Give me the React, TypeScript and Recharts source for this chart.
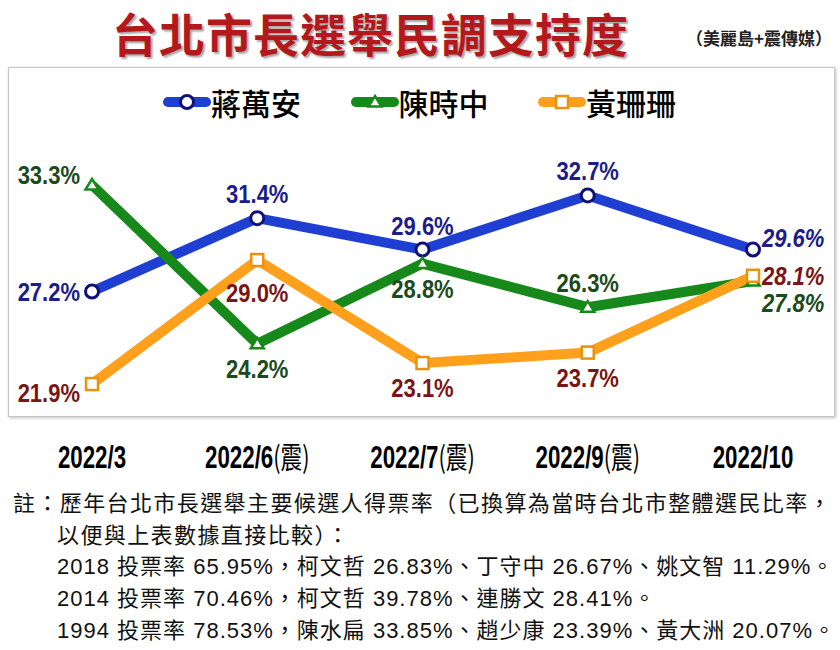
import React from "react";
import { LineChart, Line, XAxis, YAxis, Legend, LabelList } from "recharts";

const months = ["2022/3", "2022/6(震)", "2022/7(震)", "2022/9(震)", "2022/10"];
const jiang = [27.2, 31.4, 29.6, 32.7, 29.6];
const chen = [33.3, 24.2, 28.8, 26.3, 27.8];
const huang = [21.9, 29.0, 23.1, 23.7, 28.1];

// where each value label sits relative to its point
const jiangSpots = ["l", "u", "u", "u", "ru"];
const chenSpots = ["ul", "d", "d", "u", "rd"];
const huangSpots = ["dl", "dd", "d", "d", "r"];

const notes = [
    "註：歷年台北市長選舉主要候選人得票率（已換算為當時台北市整體選民比率，",
    "以便與上表數據直接比較）：",
    "2018 投票率 65.95%，柯文哲 26.83%、丁守中 26.67%、姚文智 11.29%。",
    "2014 投票率 70.46%，柯文哲 39.78%、連勝文 28.41%。",
    "1994 投票率 78.53%，陳水扁 33.85%、趙少康 23.39%、黃大洲 20.07%。",
];

const data = months.map((m, i) => ({ month: m, jiang: jiang[i], chen: chen[i], huang: huang[i] }));

const spotStyle: Record<string, { dx: number; dy: number; anchor: string; italic?: boolean }> = {
    ul: { dx: -12, dy: -10, anchor: "end" },
    l: { dx: -12, dy: 1, anchor: "end" },
    dl: { dx: -12, dy: 9, anchor: "end" },
    u: { dx: 0, dy: -24, anchor: "middle" },
    d: { dx: 0, dy: 25, anchor: "middle" },
    dd: { dx: 0, dy: 33, anchor: "middle" },
    ru: { dx: 9, dy: -12, anchor: "start", italic: true },
    r: { dx: 9, dy: 0, anchor: "start", italic: true },
    rd: { dx: 9, dy: 22, anchor: "start", italic: true },
};

const numFont = "'Liberation Sans', Arial, sans-serif";
const cjkFont = "'Noto Sans CJK TC', 'Noto Sans CJK SC', sans-serif";

const series = [
    { key: "jiang", name: "蔣萬安", line: "#1f3fd2", mark: "#10107a", text: "#1c1c8a", shape: "circle", spots: jiangSpots },
    { key: "chen", name: "陳時中", line: "#17891a", mark: "#17891a", text: "#1b4a1b", shape: "triangle", spots: chenSpots },
    { key: "huang", name: "黃珊珊", line: "#ffa01c", mark: "#e8920e", text: "#7b1515", shape: "square", spots: huangSpots },
];

function Marker({ shape, cx, cy, color }: { shape: string; cx: number; cy: number; color: string }) {
    if (shape === "circle") {
        return <circle cx={cx} cy={cy} r={6.5} fill="#fff" stroke={color} strokeWidth={3} />;
    }
    if (shape === "triangle") {
        return (
            <path
                d={`M${cx},${cy - 6} L${cx + 6.5},${cy + 4.5} L${cx - 6.5},${cy + 4.5} Z`}
                fill="#fff"
                stroke={color}
                strokeWidth={2.5}
            />
        );
    }
    return <rect x={cx - 6} y={cy - 6} width={12} height={12} fill="#fff" stroke={color} strokeWidth={2.5} />;
}

function makeLabel(spots: string[], color: string) {
    return (props: any) => {
        const { x, y, value, index } = props;
        const s = spotStyle[spots[index]];
        return (
            <text
                transform={`translate(${x + s.dx},${y + s.dy + 9}) scale(0.88,1)`}
                textAnchor={s.anchor as any}
                fill={color}
                fontFamily={numFont}
                fontWeight="bold"
                fontStyle={s.italic ? "italic" : "normal"}
                fontSize={25}
            >
                {Number(value).toFixed(1)}%
            </text>
        );
    };
}

function MonthTick(props: any) {
    const { x, y, payload } = props;
    const label: string = payload.value;
    const cut = label.indexOf("(");
    const base = cut >= 0 ? label.slice(0, cut) : label;
    const extra = cut >= 0 ? label.slice(cut) : "";
    return (
        <text
            transform={`translate(${x},${y + 43}) scale(0.72,1)`}
            textAnchor="middle"
            fill="#000"
            fontFamily={numFont}
            fontWeight="bold"
            fontSize={31}
        >
            {base}
            {extra && (
                <tspan fontFamily={cjkFont} fontWeight={400} fontSize={30}>
                    {extra}
                </tspan>
            )}
        </text>
    );
}

function LegendBox(props: any) {
    const { payload } = props;
    return (
        <div style={{ position: "relative", width: 840, height: 40 }}>
            {(payload || []).map((p: any, i: number) => {
                const s = series.find((q) => q.key === p.dataKey)!;
                return (
                    <div
                        key={s.key}
                        style={{ position: "absolute", left: 163 + i * 187.5, top: 0, height: 40, display: "flex", alignItems: "center" }}
                    >
                        <svg width={48} height={20}>
                            <line x1={5} y1={10} x2={43} y2={10} stroke={s.line} strokeWidth={10} strokeLinecap="round" />
                            <Marker shape={s.shape} cx={24} cy={10} color={s.mark} />
                        </svg>
                        <span style={{ fontFamily: cjkFont, fontSize: 30, fontWeight: 500, color: "#000" }}>{p.value}</span>
                    </div>
                );
            })}
        </div>
    );
}

export default function App() {
    return (
        <div style={{ position: "absolute", left: 0, top: 0, width: 840, height: 650, background: "#fff", overflow: "hidden" }}>
            <div
                style={{
                    position: "absolute",
                    left: 112,
                    top: 0,
                    fontFamily: cjkFont,
                    fontSize: 46,
                    fontWeight: 700,
                    letterSpacing: 1,
                    color: "#b3191c",
                    textShadow: "2px 2px 2px rgba(0,0,0,0.35)",
                    whiteSpace: "nowrap",
                    lineHeight: "64px",
                }}
            >
                台北市長選舉民調支持度
            </div>
            <div
                style={{
                    position: "absolute",
                    left: 686,
                    top: 27,
                    fontFamily: cjkFont,
                    fontSize: 17,
                    fontWeight: 700,
                    color: "#222",
                    whiteSpace: "nowrap",
                    lineHeight: "22px",
                }}
            >
                （美麗島+震傳媒）
            </div>
            <div
                style={{
                    position: "absolute",
                    left: 8,
                    top: 67,
                    width: 825,
                    height: 348,
                    border: "1px solid #c6c6c6",
                    boxShadow: "1px 1px 3px rgba(0,0,0,0.25)",
                }}
            />
            <div style={{ position: "absolute", left: 0, top: 0 }}>
                <LineChart width={840} height={650} data={data} margin={{ top: 115.3, right: 87, bottom: 172.8, left: 92 }}>
                    <XAxis dataKey="month" axisLine={false} tickLine={false} height={60} interval={0} tick={<MonthTick />} />
                    <YAxis hide domain={[20, 35]} />
                    <Legend
                        verticalAlign="top"
                        content={<LegendBox />}
                        wrapperStyle={{ position: "absolute", top: 82, left: 0, width: 840 }}
                    />
                    {series.map((s) => (
                        <Line
                            key={s.key}
                            dataKey={s.key}
                            name={s.name}
                            stroke={s.line}
                            strokeWidth={10}
                            strokeLinejoin="round"
                            type="linear"
                            isAnimationActive={false}
                            dot={(p: any) => <Marker key={`${s.key}-${p.index}`} shape={s.shape} cx={p.cx} cy={p.cy} color={s.mark} />}
                            activeDot={false}
                        >
                            <LabelList dataKey={s.key} content={makeLabel(s.spots, s.text)} />
                        </Line>
                    ))}
                </LineChart>
            </div>
            <div style={{ position: "absolute", left: 13, top: 488, fontFamily: "'Liberation Sans', " + cjkFont, fontSize: 22, color: "#111" }}>
                {notes.map((n, i) => (
                    <div
                        key={i}
                        style={{
                            whiteSpace: "nowrap",
                            lineHeight: "31.7px",
                            marginLeft: i === 0 ? 0 : 44,
                            letterSpacing: i < 2 ? 1.4 : 1.0,
                        }}
                    >
                        {n}
                    </div>
                ))}
            </div>
        </div>
    );
}
